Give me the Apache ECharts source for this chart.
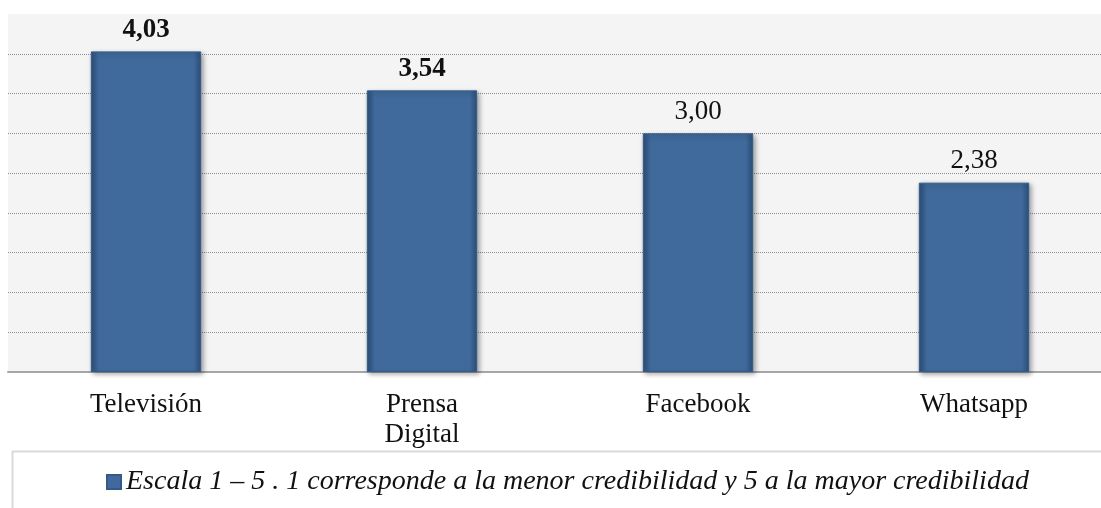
<!DOCTYPE html>
<html lang="en">
<head>
    <meta charset="UTF-8">
    <title>Credibilidad por medio</title>
    <script src="https://cdn.jsdelivr.net/npm/echarts/dist/echarts.min.js"></script>
    <style>
        html, body { margin: 0; padding: 0; background: #fff; }
    </style>
</head>
<body>
    <div id="main" style="width: 1101px;height:508px;"></div>
    <script>
        // data
        var categories = ['Televisión', 'Prensa\nDigital', 'Facebook', 'Whatsapp'];
        var values = [4.03, 3.54, 3.00, 2.38];
        var boldLabels = [true, true, false, false];
        var seriesName = 'Escala 1 – 5 . 1 corresponde a la menor credibilidad y 5 a la mayor credibilidad';

        var serif = '"Liberation Serif", "Times New Roman", serif';

        var barColor = new echarts.graphic.LinearGradient(0, 0, 1, 0, [
            { offset: 0, color: '#2c4f7a' },
            { offset: 0.07, color: '#3f6a9b' },
            { offset: 0.93, color: '#3f6a9b' },
            { offset: 1, color: '#2c4f7a' }
        ]);

        var chart = echarts.init(document.getElementById('main'));
        var option = {
            animation: false,
            textStyle: { fontFamily: serif },
            grid: {
                left: 8,
                top: 14,
                width: 1104,
                height: 358,
                outerBoundsMode: 'none',
                show: true,
                backgroundColor: '#f4f4f4',
                borderWidth: 0
            },
            legend: {
                bottom: 7,
                left: 101,
                icon: 'rect',
                itemWidth: 14,
                itemHeight: 14,
                itemGap: 6,
                data: [seriesName],
                textStyle: {
                    fontFamily: serif,
                    fontStyle: 'italic',
                    fontSize: 28,
                    color: '#111'
                }
            },
            xAxis: {
                type: 'category',
                data: categories,
                axisTick: { show: false },
                axisLine: { lineStyle: { color: '#a6a6a6', width: 2 } },
                axisLabel: {
                    margin: 18,
                    fontFamily: serif,
                    fontSize: 27,
                    lineHeight: 30,
                    color: '#111'
                }
            },
            yAxis: {
                type: 'value',
                min: 0,
                max: 4.5,
                interval: 0.5,
                axisLabel: { show: false },
                axisLine: { show: false },
                axisTick: { show: false },
                splitLine: {
                    showMaxLine: false,
                    lineStyle: { type: 'dotted', color: '#8c8c8c', width: 1 }
                }
            },
            series: [{
                name: seriesName,
                type: 'bar',
                barWidth: '40%',
                data: values.map(function (v, i) {
                    return {
                        value: v,
                        label: { fontWeight: boldLabels[i] ? 'bold' : 'normal' }
                    };
                }),
                itemStyle: {
                    color: barColor,
                    borderColor: '#34598a',
                    borderWidth: 1,
                    shadowColor: 'rgba(0,0,0,0.35)',
                    shadowBlur: 5,
                    shadowOffsetX: 2,
                    shadowOffsetY: 2
                },
                label: {
                    show: true,
                    position: 'top',
                    distance: 8,
                    fontFamily: serif,
                    fontSize: 27,
                    color: '#111',
                    formatter: function (p) {
                        return p.value.toFixed(2).replace('.', ',');
                    }
                }
            }],
            graphic: [{
                type: 'rect',
                left: 10,
                top: 449,
                shape: { width: 1100, height: 70 },
                style: { fill: 'none', stroke: '#d9d9d9', lineWidth: 2 },
                silent: true
            }]
        };

        chart.setOption(option);
    </script>
</body>
</html>
